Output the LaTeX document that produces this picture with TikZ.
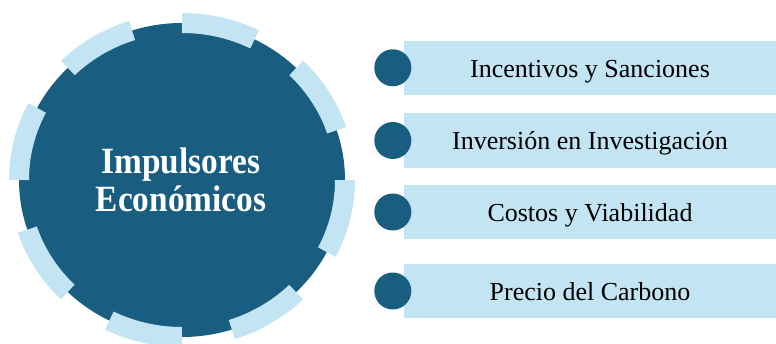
\documentclass[tikz,border=0pt]{standalone}
\usepackage{fontspec}
\setmainfont{Liberation Serif}
\newfontfamily\hubfont[FakeStretch=0.9]{Liberation Serif}
\usepackage{xcolor}
\usetikzlibrary{positioning}
\definecolor{hub blue}{HTML}{195E80}
\definecolor{band blue}{HTML}{C2E4F3}
\tikzstyle{bullet} = [circle, minimum size=37pt, fill=hub blue, inner sep=0pt]
\tikzset{band/.style={rectangle, fill=band blue, minimum width=372pt, minimum height=54.5pt,
        inner sep=0pt, text height=24pt, text depth=5pt, font=\fontsize{26}{30}\selectfont},
    ring/.style={draw=band blue, line width=20pt, dash pattern=on 75pt off 50.67pt, dash phase=75pt}}

\begin{document}
\begin{tikzpicture}[x=1pt, y=1pt]
    \useasboundingbox (0,0) rectangle (776,343);
    % Definition of the hub
    \def\hubshape{(182,163) ellipse [x radius=163pt, y radius=157pt]}
    %
    \fill[hub blue] \hubshape;
    \draw[ring] \hubshape;
    \node[align=center, text=white, font=\hubfont\bfseries\fontsize{37}{38}\selectfont] (hub) at (181,163) {Impulsores\\Económicos};
    % Bands on the right
    \node[band] (band1) at (590,275.2) {Incentivos y Sanciones};
    \node[band] (band2) at (590,202.5) {Inversión en Investigación};
    \node[band] (band3) at (590,131) {Costos y Viabilidad};
    \node[band] (band4) at (590,52) {Precio del Carbono};
    \node[bullet] (bullet1) at ([xshift=-11pt]band1.west) {};
    \node[bullet] (bullet2) at ([xshift=-11pt]band2.west) {};
    \node[bullet] (bullet3) at ([xshift=-11pt]band3.west) {};
    \node[bullet] (bullet4) at ([xshift=-11pt]band4.west) {};
\end{tikzpicture}
\end{document}
